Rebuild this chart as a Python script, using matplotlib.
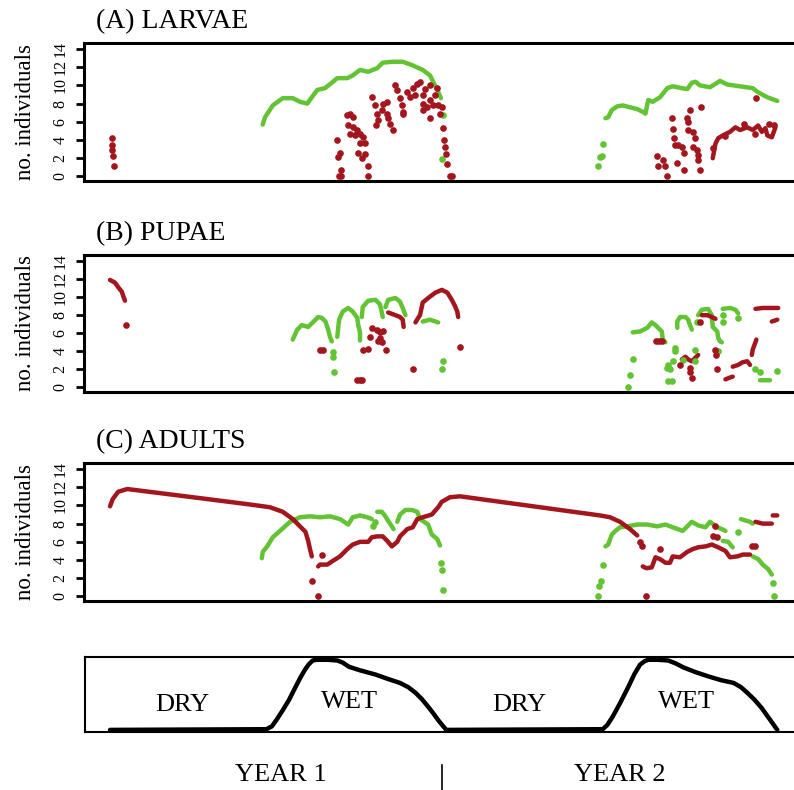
import numpy as np
import matplotlib
matplotlib.use("Agg")
import matplotlib.pyplot as plt
from matplotlib.lines import Line2D

plt.rcParams['font.family'] = ['Liberation Serif', 'DejaVu Serif']

nan = np.nan
GREEN = '#62c434'
RED = '#a3161d'

# ---- (A) LARVAE : day of simulation vs number of individuals ----
larvae_green_x = [168, 170.5, 179, 190, 201, 209, 217, 222, 228, 236.5, 244, 250, 261, 267, 275, 284, 294, 300,
                  311, 322, 333, 344, 352, 357.5, 361, 364, nan,
                  545, 548, 552, 558, 564, 572, 580, 586, 589, 592, 597, 605, 613, 619, 629, 635, 640, 644,
                  649, 660, 668, 671, 679, 693, 707, 712, 723, 734]
larvae_green_y = [5.7, 6.5, 7.8, 8.6, 8.6, 8.2, 8.0, 8.7, 9.5, 9.7, 10.3, 10.8, 10.8, 11.1, 11.7, 11.5, 11.9, 12.5,
                  12.6, 12.6, 12.2, 11.7, 11.1, 10.0, 9.3, 8.6, nan,
                  6.4, 6.5, 7.3, 7.7, 7.8, 7.6, 7.4, 7.1, 6.9, 8.4, 8.2, 8.7, 9.7, 9.9, 9.7, 9.6, 10.3, 10.4,
                  10.0, 9.8, 10.3, 10.5, 10.1, 9.9, 9.7, 9.3, 8.7, 8.3]
larvae_green_dots_x = [366, 365, 537, 539, 541, 542]
larvae_green_dots_y = [6.8, 1.9, 1.1, 2.1, 2.3, 3.6]

larvae_red_x = [663, 666, 669, 674, 682, 688, 693, 701, 707, 713, 717, 721, 723, 728, 732]
larvae_red_y = [2.0, 3.6, 4.2, 4.5, 4.9, 5.4, 5.1, 5.4, 5.1, 5.6, 4.9, 5.3, 4.5, 4.3, 5.4]
larvae_red_dots_x = [2, 2, 2, 3, 4,
                     250, 253, 251, 254, 254, 252,
                     261, 264, 267, 262, 267, 272, 264, 270, 275, 278, 281, 275, 273, 281, 277, 284, 284,
                     288, 292, 294, 295, 293, 299, 300, 305, 306, 308, 311, 305,
                     314, 316, 319, 321, 322, 327, 330, 333, 338, 341, 344, 344, 349, 352, 352, 355, 358, 360,
                     352, 361, 365, 366, 367, 369, 370, 371, 374, 376, 322, 344, 363, 335, 347,
                     602, 603, 608, 611, 613, 618, 619, 620, 622, 624, 625, 629, 631, 631, 635, 636, 638, 636,
                     641, 644, 641, 646, 647, 647, 649, 650, 711, 663, 677, 697, 710, 725, 730]
larvae_red_dots_y = [4.2, 3.5, 2.9, 2.2, 1.1,
                     4.0, 2.6, 2.1, 0.7, 0.0, 0.0,
                     6.7, 6.9, 6.5, 5.6, 5.4, 5.1, 4.7, 4.5, 4.7, 4.3, 3.7, 3.7, 2.6, 2.5, 2.0, 1.2, 0.1,
                     8.7, 7.8, 6.9, 6.2, 5.6, 7.3, 8.0, 6.9, 6.4, 5.8, 5.1, 8.2,
                     10.0, 9.5, 8.6, 7.8, 6.9, 9.3, 8.7, 9.7, 10.2, 10.4, 8.9, 8.0, 7.6, 8.4, 10.0, 7.8, 8.9, 9.7,
                     6.4, 7.8, 7.6, 5.3, 4.0, 3.2, 2.5, 1.4, 0.1, 0.0, 7.1, 7.3, 6.9, 9.0, 9.6,
                     2.2, 1.1, 1.8, 1.1, 0.0, 6.4, 5.2, 4.2, 3.5, 1.5, 3.4, 3.2, 2.6, 0.7, 6.4, 6.0, 7.3, 5.1,
                     4.9, 4.2, 3.2, 2.9, 2.4, 1.8, 0.7, 7.6, 8.6, 3.1, 4.4, 5.8, 4.7, 5.8, 5.6]

# ---- (B) PUPAE ----
pupae_green_x = [201, 206, 211, 218, 223, 229, 233, 237, 240, 242, 244, nan,
                 250, 252, 256, 262, 267, 272, 273, 275, 275, nan,
                 277, 278, 284, 292, 297, 299, 300, nan,
                 303, 306, 314, 319, 322, 325, nan,
                 344, 352, 361, nan,
                 575, 583, 591, 596, 600, 603, 607, 608, 611, nan,
                 624, 624, 627, 633, 636, 638, 640, nan,
                 647, 651, 658, 662, 663, 668, 669, 671, 673, nan,
                 674, 682, 688, 691, nan,
                 715, 726]
pupae_green_y = [5.3, 6.4, 6.9, 6.7, 7.2, 7.8, 7.7, 7.3, 6.4, 5.6, 5.1, nan,
                 5.6, 7.5, 8.4, 8.8, 8.4, 7.7, 6.9, 6.1, 5.2, nan,
                 7.8, 8.9, 9.6, 9.7, 9.2, 8.3, 7.8, nan,
                 8.9, 9.7, 9.9, 9.5, 8.8, 8.0, nan,
                 7.3, 7.5, 7.2, nan,
                 6.1, 6.2, 6.6, 7.2, 6.9, 6.6, 6.2, 5.3, 5.0, nan,
                 6.6, 7.3, 7.8, 7.8, 7.5, 6.9, 6.4, nan,
                 8.0, 8.6, 8.7, 8.0, 6.7, 6.2, 5.5, 5.1, 5.0, nan,
                 8.7, 8.8, 8.6, 8.2, nan,
                 0.8, 0.8]
pupae_green_dots_x = [245, 245, 246, 366, 365, 575, 572, 570, 613, 616, 614, 618, 619, 622, 622,
                      644, 644, 646, 669, 674, 674, 734, 710, 715, 691, 614, 630]
pupae_green_dots_y = [3.9, 3.4, 1.7, 2.9, 2.0, 3.1, 1.4, 0.1, 2.2, 2.0, 0.7, 0.7, 2.9, 4.0, 4.4,
                      4.2, 2.9, 7.2, 4.0, 8.0, 7.2, 1.8, 2.0, 1.7, 7.7, 2.5, 3.0]

pupae_red_x = [0, 5.5, 9, 13, 15, 16.5, nan,
               306, 314, 319, 322, 323, nan,
               336, 339, 341, 344, 350, 358, 365, 371, 376, 380, 382, 383, nan,
               651, 657, 662, 666, nan,
               710, 718, 728, 735, nan,
               728, 734, nan,
               685, 691, 696, 701, 704, nan,
               706, 707, 710, 711, nan,
               677, 682, 685, nan,
               629, 633, 636, 640, 644, 647]
pupae_red_y = [11.9, 11.6, 11.1, 10.6, 10.0, 9.6, nan,
               8.3, 8.0, 7.8, 7.5, 6.7, nan,
               7.2, 7.7, 8.0, 9.4, 9.9, 10.5, 10.8, 10.5, 9.7, 8.9, 8.4, 7.8, nan,
               8.0, 8.0, 7.8, 7.6, nan,
               8.7, 8.8, 8.8, 8.8, nan,
               7.3, 7.5, nan,
               2.3, 2.5, 2.8, 2.9, 2.5, nan,
               3.6, 4.2, 5.0, 5.3, nan,
               0.9, 1.1, 1.2, nan,
               3.1, 3.4, 3.1, 2.9, 3.3, 3.6]
pupae_red_dots_x = [17.6, 231, 234, 278, 284, 272, 275, 277, 288, 294, 297, 297, 300, 295, 299, 286,
                    304, 333, 385, 601, 604, 607, 649, 638, 638, 640, 627, 666, 667, 668]
pupae_red_dots_y = [6.9, 4.1, 4.1, 4.2, 4.3, 0.8, 0.8, 0.8, 6.6, 6.4, 6.1, 5.5, 6.2, 5.1, 5.0, 5.6,
                    4.2, 2.0, 4.5, 5.1, 5.1, 5.1, 7.2, 2.2, 1.7, 1.1, 2.5, 4.2, 3.6, 2.0]

# ---- (C) ADULTS ----
adults_green_x = [167, 168, 173, 179, 187, 198, 209, 220, 231, 242, 253, 262, 267, 275, 283, 288, nan,
                  294, 299, 303, 306, 310, 312, nan,
                  316, 319, 325, 332, 338, 341, 350, 354, 360, 363, nan,
                  545, 548, 552, 556, 561, 569, 580, 591, 602, 611, 619, 630, 640, 647, 655, 660, 668, 673, 677, nan,
                  674, 680, 684, 685, nan,
                  694, 704, 707, nan,
                  707, 713, 718, 724, 728]
adults_green_y = [4.2, 4.9, 5.5, 6.5, 7.2, 8.2, 8.7, 8.8, 8.7, 8.8, 8.5, 7.9, 8.7, 8.9, 8.7, 8.5, nan,
                  9.3, 9.3, 8.8, 8.3, 7.7, 7.4, nan,
                  8.2, 9.0, 9.5, 9.5, 9.3, 8.5, 7.9, 6.8, 6.3, 5.6, nan,
                  5.5, 5.7, 6.8, 7.2, 7.6, 7.7, 7.9, 7.9, 7.7, 7.9, 7.6, 7.2, 8.2, 7.8, 7.6, 8.2, 7.6, 7.4, 7.2, nan,
                  6.1, 6.0, 5.5, 5.4, nan,
                  8.5, 8.2, 8.0, nan,
                  4.4, 4.1, 3.5, 3.0, 2.4]
adults_green_dots_x = [289, 292, 364, 365, 366, 537, 538, 540, 542, 691, 729, 730]
adults_green_dots_y = [7.7, 8.2, 3.7, 2.9, 0.7, 0.0, 1.1, 1.7, 3.5, 7.1, 1.5, 0.0]

adults_red_x = [0, 3, 9, 19, 99, 154, 176, 190, 201, 209, 215, 218, 220, 222, nan,
                229, 231, 239, 245, 253, 261, 267, 275, 284, 288, 294, 300, 305, 310, 316, 319, 327, 333,
                338, 344, 354, 361, 365, 374, 385, 539, 550, 561, 572, 580, nan,
                586, 590, 596, 600, 605, 611, 616, 619, 627, 635, 641, 647, 655, 662, 669, 677, 682, 690,
                696, 704, nan,
                710, 718, 728, nan,
                729, 734]
adults_red_y = [9.9, 10.7, 11.5, 11.8, 10.8, 10.1, 9.8, 9.3, 8.5, 7.7, 7.1, 6.1, 5.2, 4.4, nan,
                3.3, 3.5, 3.5, 3.9, 4.4, 5.2, 5.7, 6.0, 6.0, 6.5, 6.6, 6.6, 6.1, 5.5, 6.0, 6.6, 7.4, 7.6,
                8.5, 8.7, 9.0, 9.8, 10.4, 10.9, 11.0, 8.9, 8.7, 8.2, 7.4, 6.7, nan,
                3.3, 3.1, 3.2, 4.3, 4.1, 3.7, 3.7, 4.4, 4.3, 4.9, 5.2, 5.4, 5.5, 5.7, 5.4, 5.0, 4.3, 4.4,
                4.6, 4.6, nan,
                8.2, 8.0, 8.0, nan,
                8.9, 8.9]
adults_red_dots_x = [222, 229, 233, 583, 585, 590, 605, 666, 663, 668, 706, 710]
adults_red_dots_y = [1.7, 0.0, 4.6, 6.0, 5.5, 0.0, 5.2, 7.7, 6.6, 6.5, 5.5, 5.5]

# ---- rainfall (relative) ----
rain_x = [0, 172, 178, 183, 190, 197, 204, 210, 215, 219, 223, 227, 240, 250, 256, 263, 275, 292, 305, 319,
          328, 336, 343, 350, 356, 361, 366, 370,
          542, 547, 553, 561, 570, 577, 583, 588, 592, 603, 614, 622, 631, 645, 659, 672, 686, 694, 701, 709,
          717, 723, 728, 734]
rain_y = [0, 0.01, 0.05, 0.14, 0.28, 0.43, 0.61, 0.76, 0.87, 0.94, 0.99, 1.0, 1.0, 0.99, 0.96, 0.9, 0.85,
          0.79, 0.73, 0.67, 0.61, 0.53, 0.44, 0.33, 0.23, 0.14, 0.06, 0,
          0.01, 0.07, 0.19, 0.38, 0.61, 0.8, 0.93, 0.98, 1.0, 1.0, 0.99, 0.95, 0.89, 0.82, 0.76, 0.71, 0.67,
          0.61, 0.53, 0.43, 0.31, 0.2, 0.11, 0]
season_labels = ['DRY', 'WET', 'DRY', 'WET']
season_x = [79, 263, 450, 634]
season_y = [0.36, 0.40, 0.36, 0.40]
year_labels = ['YEAR 1', 'YEAR 2']

W, H = 794, 790
fig = plt.figure(figsize=(W / 100, H / 100), dpi=100)
XLIM = (-28.6, 792)


def panel(top_px, bottom_px, title, gx, gy, gdx, gdy, rx, ry, rdx, rdy):
    ax = fig.add_axes([84 / W, (H - bottom_px) / H, (830 - 84) / W, (bottom_px - top_px) / H])
    ax.plot(gx, gy, '-', color=GREEN, lw=3.2, solid_capstyle='round', solid_joinstyle='round')
    ax.plot(rx, ry, '-', color=RED, lw=3.2, solid_capstyle='round', solid_joinstyle='round')
    ax.plot(gdx, gdy, 'o', color=GREEN, ms=4.8, mec='none')
    ax.plot(rdx, rdy, 'o', color=RED, ms=4.8, mec='none')
    ax.set_xlim(*XLIM)
    ax.set_ylim(-0.5, 14.66)
    ax.set_xticks([])
    ax.set_yticks(range(0, 15, 2))
    for s in ['left', 'top', 'bottom']:
        ax.spines[s].set_linewidth(2.2)
    ax.spines['right'].set_visible(False)
    ax.tick_params(axis='y', length=6, width=2, pad=5, labelsize=11.5)
    for lab in ax.get_yticklabels():
        lab.set_rotation(90)
        lab.set_va('center')
    fig.text(26 / W, 1 - (top_px + bottom_px) / 2 / H, 'no. individuals', rotation=90,
             ha='center', va='center', fontsize=16.5)
    fig.text(96 / W, 1 - (top_px - 21) / H, title, ha='left', va='center', fontsize=20)
    return ax


panel(43, 181, '(A) LARVAE', larvae_green_x, larvae_green_y, larvae_green_dots_x, larvae_green_dots_y,
      larvae_red_x, larvae_red_y, larvae_red_dots_x, larvae_red_dots_y)
panel(255, 392, '(B) PUPAE', pupae_green_x, pupae_green_y, pupae_green_dots_x, pupae_green_dots_y,
      pupae_red_x, pupae_red_y, pupae_red_dots_x, pupae_red_dots_y)
panel(463, 601, '(C) ADULTS', adults_green_x, adults_green_y, adults_green_dots_x, adults_green_dots_y,
      adults_red_x, adults_red_y, adults_red_dots_x, adults_red_dots_y)

# rainfall panel
rax = fig.add_axes([85 / W, (H - 732) / H, (830 - 85) / W, 75 / H])
rax.plot(rain_x, rain_y, color='black', lw=3.2, solid_capstyle='round', solid_joinstyle='round')
rax.set_xlim(-27.5, 792)
rax.set_ylim(-0.03, 1.04)
rax.set_xticks([])
rax.set_yticks([])
for s in rax.spines.values():
    s.set_linewidth(1.5)
for lab, x, y in zip(season_labels, season_x, season_y):
    rax.text(x, y, lab, ha='center', va='center', fontsize=19)

fig.text(281 / W, 15 / H, year_labels[0], ha='center', va='center', fontsize=19)
fig.text(620 / W, 15 / H, year_labels[1], ha='center', va='center', fontsize=19)
fig.add_artist(Line2D([442 / W, 442 / W], [0, 25 / H], color='black', lw=1.2))

fig.savefig('out.png', dpi=100)
